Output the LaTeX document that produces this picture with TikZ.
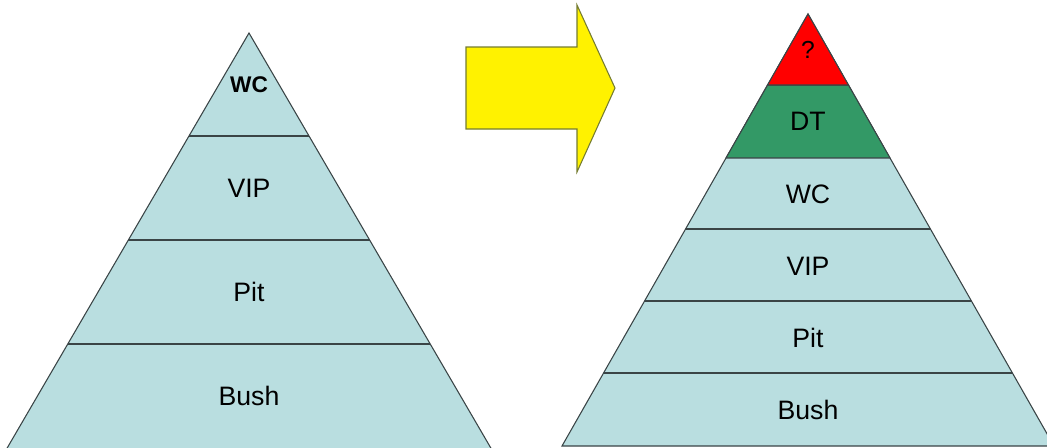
\documentclass[tikz,border=0pt]{standalone}
\usepackage{fontspec}
\setmainfont{Liberation Sans}
\usepackage{tikz}
\usetikzlibrary{calc}
\usepackage{xcolor}
\definecolor{layerblue}{HTML}{B9DEE0}
\definecolor{layergreen}{HTML}{339966}
\definecolor{edgegray}{HTML}{3A4446}

\begin{document}
\begin{tikzpicture}[x=0.75pt, y=-0.75pt, line width=0.8pt,
    label/.style={font=\fontsize{20}{24}\selectfont, inner sep=0pt}]
    \useasboundingbox (0,0) rectangle (1047,447);

    % Left pyramid
    \coordinate (LA) at (249,33);
    \coordinate (LBL) at ($(LA)+(-243,417)$);
    \coordinate (LBR) at ($(LA)+(243,417)$);
    \filldraw[fill=layerblue, draw=edgegray] (LA) -- (LBL) -- (LBR) -- cycle;
    \foreach \t in {0.2470, 0.4964, 0.7458}
        \draw[edgegray] ($(LA)!\t!(LBL)$) -- ($(LA)!\t!(LBR)$);

    \node[label, font=\fontsize{17}{20}\bfseries] (lwc) at (249,84.5) {WC};
    \node[label] (lvip) at (249,188) {VIP};
    \node[label] (lpit) at (249,292) {Pit};
    \node[label] (lbush) at (249,396) {Bush};

    % Arrow
    \filldraw[fill=yellow, draw=edgegray!70!yellow] (466,47) -- (577,47) -- (577,5)
        -- (615,88) -- (577,172) -- (577,129) -- (466,129) -- cycle;

    % Right pyramid
    \coordinate (RA) at (808,14);
    \coordinate (RBL) at ($(RA)+(-246,432)$);
    \coordinate (RBR) at ($(RA)+(246,432)$);
    \coordinate (R1L) at ($(RA)!0.1644!(RBL)$);
    \coordinate (R1R) at ($(RA)!0.1644!(RBR)$);
    \coordinate (R2L) at ($(RA)!0.3333!(RBL)$);
    \coordinate (R2R) at ($(RA)!0.3333!(RBR)$);
    \filldraw[fill=layerblue, draw=edgegray] (RA) -- (RBL) -- (RBR) -- cycle;
    \filldraw[fill=layergreen, draw=edgegray] (R1L) -- (R2L) -- (R2R) -- (R1R) -- cycle;
    \filldraw[fill=red, draw=edgegray] (RA) -- (R1L) -- (R1R) -- cycle;
    \foreach \t in {0.4977, 0.6644, 0.8310}
        \draw[edgegray] ($(RA)!\t!(RBL)$) -- ($(RA)!\t!(RBR)$);

    \node[label, font=\fontsize{18.5}{22}\selectfont] (rq) at (808,50) {?};
    \node[label] (rdt) at (808,121) {DT};
    \node[label] (rwc) at (808,194) {WC};
    \node[label] (rvip) at (808,266) {VIP};
    \node[label] (rpit) at (808,338) {Pit};
    \node[label] (rbush) at (808,410) {Bush};
\end{tikzpicture}
\end{document}
